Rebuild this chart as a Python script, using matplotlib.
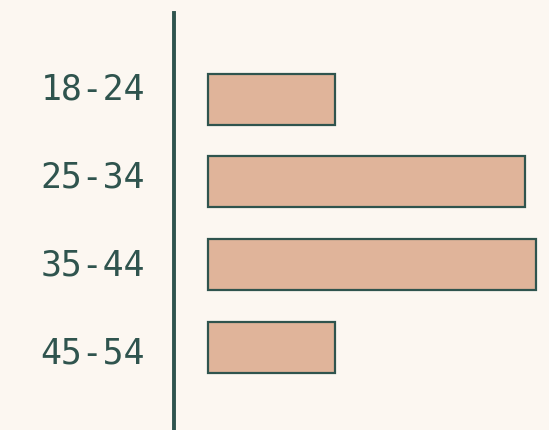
import matplotlib
matplotlib.use("Agg")
import matplotlib.pyplot as plt
from matplotlib.transforms import blended_transform_factory

categories = ["18-24", "25-34", "35-44", "45-54"]
values = [12, 30, 31, 12]

BG = "#fcf7f1"
BAR = "#e0b49a"
INK = "#2f544e"

W, H = 549, 430
fig = plt.figure(figsize=(W / 100, H / 100), dpi=100, facecolor=BG)
ax = fig.add_axes([0, 0, 1, 1])
ax.set_facecolor(BG)

band = 82.8      # px per category
px_unit = 10.58  # px per value unit
y0 = 99          # px of first bar centre from top
x0 = 208         # px of zero

ax.set_xlim(-x0 / px_unit, (W - x0) / px_unit)
ax.set_ylim((H - y0) / band, -y0 / band)

ypos = list(range(len(categories)))
ax.barh(ypos, values, height=51 / band, color=BAR, edgecolor=INK, linewidth=1.6)

axis_x = (174.5 - x0) / px_unit
ax.axvline(axis_x, ymin=0, ymax=1 - 13 / H, color=INK, linewidth=2.8)

for s in ax.spines.values():
    s.set_visible(False)
ax.set_xticks([])
ax.set_yticks([])

trans = blended_transform_factory(fig.dpi_scale_trans, ax.transData)
label_x = 145 / 100
for i, c in enumerate(categories):
    ly = (90 - y0) / band + i * (88 / band)
    ax.text(label_x, ly, c, transform=trans, ha="right", va="center",
            fontsize=25, color=INK, family="DejaVu Sans Mono")

fig.savefig("out.png", dpi=100, facecolor=BG)
